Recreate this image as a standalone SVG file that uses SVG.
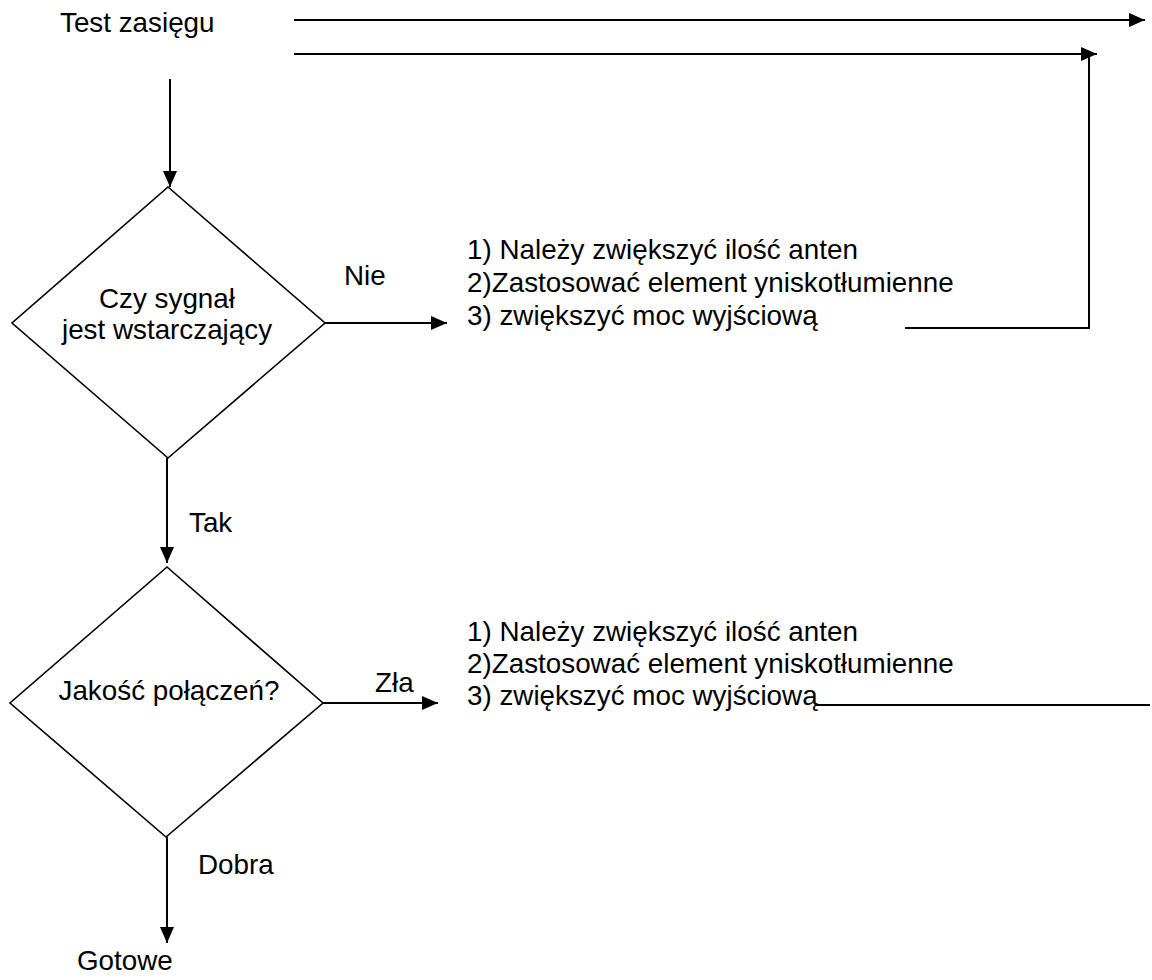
<svg xmlns="http://www.w3.org/2000/svg" width="1152" height="980" viewBox="0 0 1152 980">
<style>
text { font-family: "Liberation Sans", Arial, sans-serif; font-size: 27.8px; fill: #000; }
.mid { text-anchor: middle; }
.ln { stroke: #000; stroke-width: 2; fill: none; }
.shape { stroke: #000; stroke-width: 1.6; fill: #fff; }
</style>
<defs>
<marker id="ah" markerUnits="userSpaceOnUse" markerWidth="16" markerHeight="14" refX="16" refY="7" orient="auto">
<path d="M0,0 L16,7 L0,14 z" fill="#000"/>
</marker>
</defs>
<g id="connectors">
<line class="ln" x1="294" y1="20" x2="1145" y2="20" marker-end="url(#ah)"/>
<line class="ln" x1="294" y1="54" x2="1097" y2="54" marker-end="url(#ah)"/>
<polyline class="ln" points="905,328 1089,328 1089,56"/>
<line class="ln" x1="170" y1="79" x2="170" y2="187" marker-end="url(#ah)"/>
<line class="ln" x1="325" y1="323" x2="447" y2="323" marker-end="url(#ah)"/>
<line class="ln" x1="167" y1="458" x2="167" y2="563" marker-end="url(#ah)"/>
<line class="ln" x1="323" y1="703" x2="438" y2="703" marker-end="url(#ah)"/>
<line class="ln" x1="815" y1="705" x2="1150" y2="705"/>
<line class="ln" x1="167" y1="837" x2="167" y2="943" marker-end="url(#ah)"/>
</g>
<g id="start"><text x="60" y="32">Test zasięgu</text></g>
<g id="decision1">
<polygon class="shape" points="168,187 325,323 168,458 12,323"/>
<text class="mid" x="167" y="308">Czy sygnał</text>
<text class="mid" x="167" y="339">jest wstarczający</text>
</g>
<g id="label-nie"><text x="344" y="285">Nie</text></g>
<g id="actions1">
<text x="467" y="259">1) Należy zwiększyć ilość anten</text>
<text x="467" y="292">2)Zastosować element yniskotłumienne</text>
<text x="467" y="325">3) zwiększyć moc wyjściową</text>
</g>
<g id="label-tak"><text x="189" y="532">Tak</text></g>
<g id="decision2">
<polygon class="shape" points="167,567 323,703 166,837 10,703"/>
<text class="mid" x="169" y="700">Jakość połączeń?</text>
</g>
<g id="label-zla"><text x="375" y="692">Zła</text></g>
<g id="actions2">
<text x="467" y="641">1) Należy zwiększyć ilość anten</text>
<text x="467" y="673">2)Zastosować element yniskotłumienne</text>
<text x="467" y="705">3) zwiększyć moc wyjściową</text>
</g>
<g id="label-dobra"><text x="198" y="874">Dobra</text></g>
<g id="end"><text x="77" y="970">Gotowe</text></g>
</svg>
